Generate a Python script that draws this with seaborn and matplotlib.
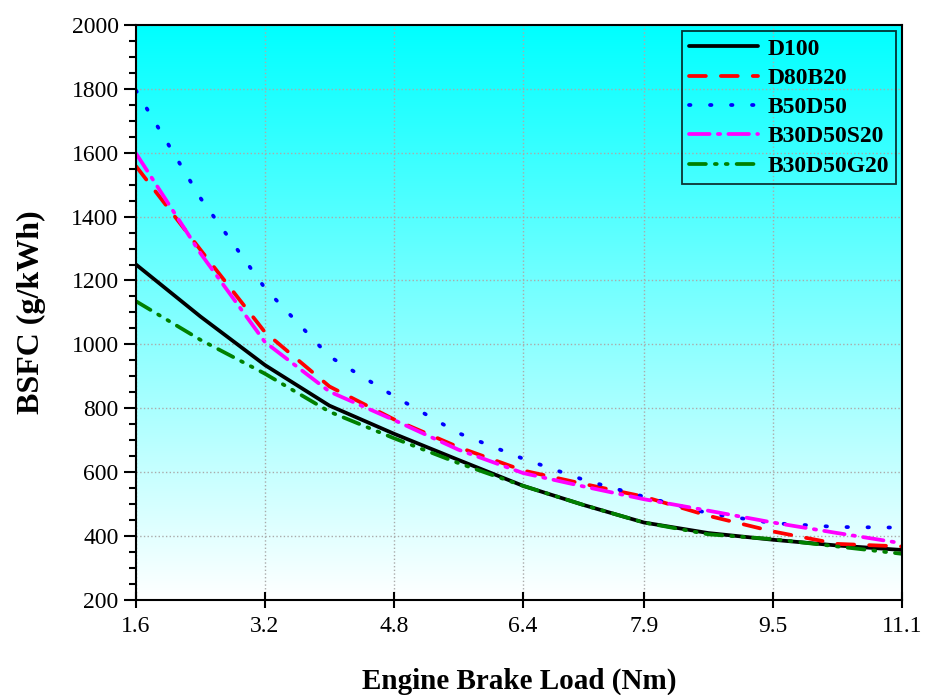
import numpy as np
import pandas as pd
import matplotlib
matplotlib.use("Agg")
import matplotlib.pyplot as plt
import seaborn as sns
from matplotlib.colors import LinearSegmentedColormap
from matplotlib.ticker import MultipleLocator

# values
load = [1.6, 2.4, 3.2, 4.0, 4.8, 5.6, 6.4, 7.15, 7.9, 8.7, 9.5, 10.3, 11.1]
d100 = [1250, 1087, 935, 808, 720, 638, 557, 497, 442, 409, 388, 370, 356]
d80b20 = [1558, 1296, 1038, 868, 765, 678, 605, 563, 523, 463, 414, 375, 367]
b50d50 = [1795, 1458, 1176, 962, 838, 722, 642, 576, 523, 471, 440, 428, 426]
b30d50s20 = [1598, 1285, 1007, 852, 763, 670, 597, 555, 515, 479, 442, 409, 377]
b30d50g20 = [1135, 1014, 908, 789, 706, 628, 557, 497, 442, 405, 390, 367, 344]

xticks = [1.6, 3.2, 4.8, 6.4, 7.9, 9.5, 11.1]
names = ["D100", "D80B20", "B50D50", "B30D50S20", "B30D50G20"]
colors = ["black", "red", "blue", "magenta", "green"]
dashes = [None, (4.5, 4), (0.4, 5.2), (5.5, 2.2, 0.6, 2.2), (4.5, 2.4, 0.5, 2.4, 0.5, 2.4)]

df = pd.DataFrame({"load": load, "D100": d100, "D80B20": d80b20,
                   "B50D50": b50d50, "B30D50S20": b30d50s20, "B30D50G20": b30d50g20})

sns.set_style("ticks")
plt.rcParams["font.family"] = ["Liberation Serif", "DejaVu Serif"]
plt.rcParams.update({"text.color": "black", "axes.labelcolor": "black",
                     "xtick.color": "black", "ytick.color": "black",
                     "axes.edgecolor": "black"})

fig = plt.figure(figsize=(9.25, 6.95), dpi=100)
ax = fig.add_axes([0.147, 0.137, 0.828, 0.827])

# cyan to white gradient background
cmap = LinearSegmentedColormap.from_list("bg", ["#ffffff", "#00ffff"])
grad = np.linspace(0, 1, 256).reshape(-1, 1)
ax.imshow(grad, cmap=cmap, aspect="auto", origin="lower",
          extent=[1.6, 11.1, 200, 2000], zorder=0)

for name, c, d in zip(names, colors, dashes):
    sns.lineplot(data=df, x="load", y=name, color=c, lw=2.7, ax=ax, label=name)
    l = ax.get_lines()[-1]
    if d is not None:
        l.set_dashes(d)
        l.set_dash_capstyle("round")
    l.set_zorder(3)

ax.set_xlim(1.6, 11.1)
ax.set_ylim(200, 2000)
ax.set_xticks(xticks)
ax.set_xticklabels([str(t) for t in xticks])
ax.yaxis.set_major_locator(MultipleLocator(200))
ax.yaxis.set_minor_locator(MultipleLocator(50))
ax.grid(True, which="major", linestyle=":", color="#aaaaaa", lw=1)
for g in ax.get_xgridlines() + ax.get_ygridlines():
    g.set_zorder(1)

ax.tick_params(axis="x", which="major", direction="inout", length=12, width=1.5, labelsize=17, pad=6)
ax.tick_params(axis="y", which="major", direction="out", length=9, width=1.5, labelsize=17)
ax.tick_params(axis="y", which="minor", direction="out", length=5, width=1.5)
for s in ax.spines.values():
    s.set_linewidth(1.5)
    s.set_visible(True)
    s.set_color("black")
    s.set_zorder(4)

ax.set_xlabel("Engine Brake Load (Nm)", fontsize=21, fontweight="bold", labelpad=22)
ax.set_ylabel("BSFC (g/kWh)", fontsize=23, fontweight="bold", labelpad=18)

leg = ax.legend(loc="upper right", frameon=True, fancybox=False,
                edgecolor="black", facecolor="none", framealpha=None,
                prop={"weight": "bold", "size": 17},
                handlelength=2.9, handletextpad=0.4, labelspacing=0.33,
                borderpad=0.3, borderaxespad=0.25)
leg.get_frame().set_linewidth(1.3)

plt.savefig("out.png", dpi=100)
